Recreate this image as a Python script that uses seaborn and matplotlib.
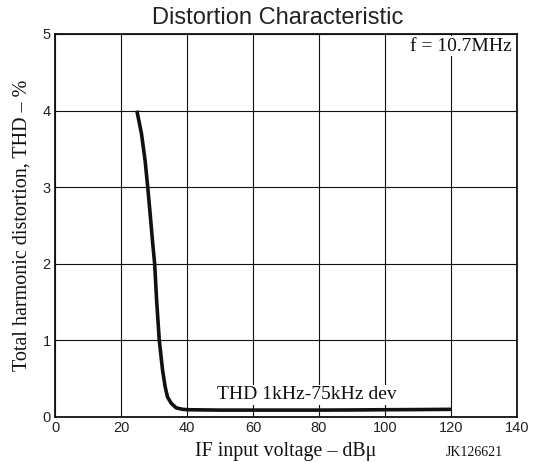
import matplotlib
matplotlib.use("Agg")
import matplotlib.pyplot as plt
import seaborn as sns
import pandas as pd

# Data
if_input_dbu = [24.8, 26.2, 27.3, 28.1, 28.9, 29.6, 30.2, 30.8, 31.6, 32.6, 33.4, 34.1, 35.2, 36.7, 38.7, 40.2, 50, 60, 70, 80, 90, 100, 110, 120]
thd_percent = [4.0, 3.7, 3.35, 3.0, 2.62, 2.27, 2.0, 1.52, 1.0, 0.61, 0.39, 0.26, 0.18, 0.12, 0.10, 0.095, 0.09, 0.09, 0.09, 0.09, 0.092, 0.095, 0.097, 0.1]
x_ticks = [0, 20, 40, 60, 80, 100, 120, 140]
y_ticks = [0, 1, 2, 3, 4, 5]

sns.set_theme(style="white")
plt.rcParams['font.family'] = ['Liberation Sans', 'DejaVu Sans']

fig = plt.figure(figsize=(5.36, 4.62), dpi=100)
ax = fig.add_axes([55/536, 1 - 417/462, (517 - 55)/536, (417 - 34)/462])

df = pd.DataFrame({"x": if_input_dbu, "y": thd_percent})
sns.lineplot(data=df, x="x", y="y", ax=ax, color="#111111", linewidth=2.6, sort=False, zorder=3)
ax.lines[-1].set_solid_joinstyle("round")
ax.lines[-1].set_solid_capstyle("butt")

ax.set_xlim(0, 140)
ax.set_ylim(0, 5)
ax.set_xticks(x_ticks)
ax.set_yticks(y_ticks)
ax.set_xticklabels([str(t) for t in x_ticks], fontsize=10.5, color="#222222")
ax.set_yticklabels([str(t) for t in y_ticks], fontsize=10.5, color="#222222")
ax.tick_params(axis="x", length=0, pad=3)
ax.tick_params(axis="y", length=0, pad=3)
ax.grid(True, color="#111111", linewidth=0.8)
for s in ax.spines.values():
    s.set_visible(True)
    s.set_color("#111111")
    s.set_linewidth(1.3)

serif = ['Liberation Serif', 'DejaVu Serif']
ax.set_xlabel("IF input voltage – dBμ", family=serif, fontsize=14.3, color="#111111", labelpad=5)
ax.set_ylabel("Total harmonic distortion, THD – %", family=serif, fontsize=14.5, color="#111111", labelpad=8)

fig.text(278/536, 1 - 18/462, "Distortion Characteristic", ha="center", va="center", fontsize=17, color="#222222")

ax.text(138.5, 4.84, "f = 10.7MHz", ha="right", va="center", family=serif, fontsize=14, color="#111111",
        bbox=dict(facecolor="white", edgecolor="none", pad=1), zorder=4)
ax.text(76.3, 0.29, "THD 1kHz-75kHz dev", ha="center", va="center", family=serif, fontsize=14, color="#111111",
        bbox=dict(facecolor="white", edgecolor="none", pad=1), zorder=4)
fig.text(503/536, 1 - 453/462, "JK126621", ha="right", va="center", family=serif, fontsize=10, color="#111111")

fig.savefig("out.png", dpi=100)
